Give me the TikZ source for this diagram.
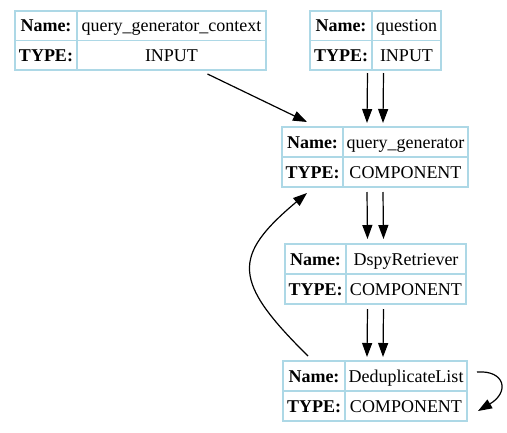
\documentclass[tikz,border=0pt]{standalone}
\usepackage{fontspec}
\setmainfont{Liberation Serif}
\usetikzlibrary{arrows.meta,fit}
\definecolor{recblue}{HTML}{ADD8E6}
\tikzset{
  rec/.style={draw=recblue,line width=1.3pt,inner sep=0pt,outer sep=0pt},
  cell/.style={inner sep=0pt,anchor=base,font=\fontsize{18}{21}\selectfont},
  edge/.style={line width=1.2pt,-{Triangle[length=14pt,width=10pt]}}
}
% record: name, left, divider, right, top, bottom, label, type
\newcommand\record[8]{%
  \node[rec,fit={(#2,#5) (#4,#6)}] (#1) {};
  \draw[rec] (#3,#5) -- (#3,#6);
  \draw[rec] (#2,{(#5+#6)/2}) -- (#4,{(#5+#6)/2});
  \node[cell] (#1-nk) at ({(#2+#3)/2},{(3*#5+#6)/4+6}) {\textbf{Name:}};
  \node[cell] (#1-nv) at ({(#3+#4)/2},{(3*#5+#6)/4+6}) {#7};
  \node[cell] (#1-tk) at ({(#2+#3)/2},{(#5+3*#6)/4+6}) {\textbf{TYPE:}};
  \node[cell] (#1-tv) at ({(#3+#4)/2},{(#5+3*#6)/4+6}) {#8};
}

\begin{document}
\begin{tikzpicture}[x=1pt,y=-1pt]
  \useasboundingbox (0,0) rectangle (507,432);
  \record{ctx}{15}{77}{266}{11}{70}{query\_generator\_context}{INPUT}
  \record{quest}{310}{372}{441}{11}{70}{question}{INPUT}
  \record{qgen}{282}{343}{468}{127}{187}{query\_generator}{COMPONENT}
  \record{retr}{285}{346}{466}{244}{304}{DspyRetriever}{COMPONENT}
  \record{dedup}{283}{345}{467}{361}{421}{DeduplicateList}{COMPONENT}
  % edges
  \draw[edge] ([xshift=67,yshift=-4]ctx.south) -- ([xshift=-68,yshift=5]qgen.north);
  \foreach \dx in {-8,8} {
    \draw[edge] ([xshift=\dx,yshift=-3]quest.south) -- ([xshift=\dx,yshift=4]qgen.north);
    \draw[edge] ([xshift=\dx,yshift=-5]qgen.south) -- ([xshift=\dx,yshift=5]retr.north);
    \draw[edge] ([xshift=\dx,yshift=-5]retr.south) -- ([xshift=\dx,yshift=4]dedup.north);
  }
  \draw[edge] ([xshift=-67,yshift=5]dedup.north) .. controls (232,281) and (232,256) .. ([xshift=-68,yshift=-6]qgen.south);
  \draw[edge] ([xshift=10,yshift=19]dedup.east) .. controls (505,370) and (510,392) .. ([xshift=11,yshift=-20]dedup.east);
\end{tikzpicture}
\end{document}
